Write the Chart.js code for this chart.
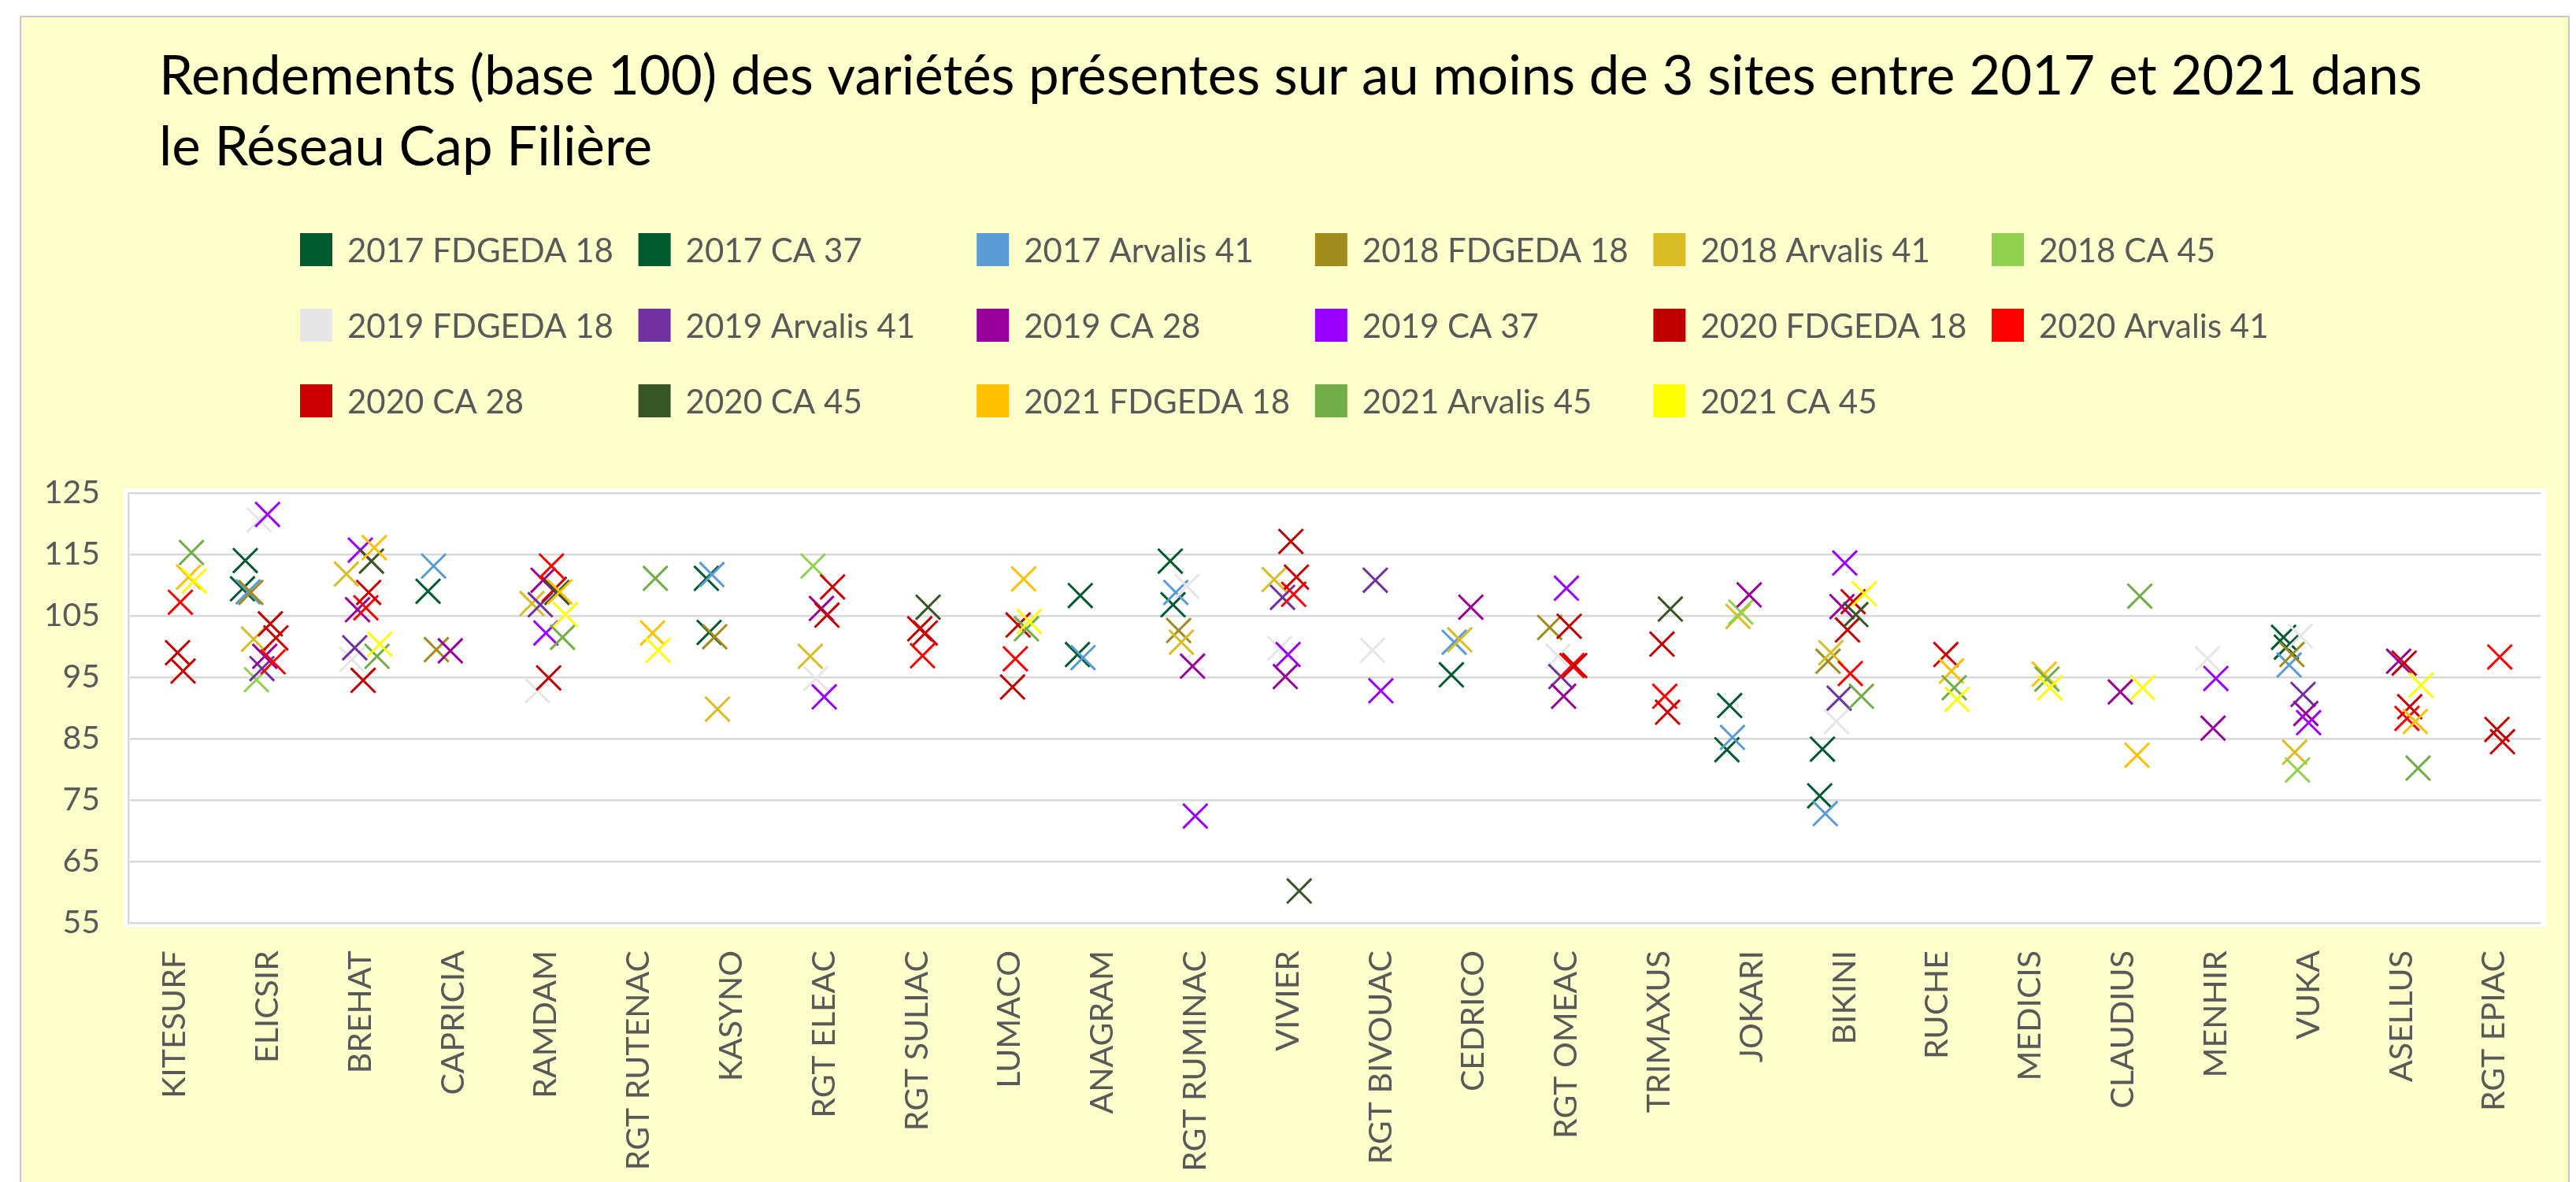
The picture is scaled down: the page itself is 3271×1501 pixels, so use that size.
<!DOCTYPE html>
<html><head><meta charset="utf-8">
<script src="https://cdn.jsdelivr.net/npm/chart.js@4/dist/chart.umd.min.js"></script>
<style>
html,body{margin:0;padding:0;background:#fff;width:3271px;height:1501px;overflow:hidden;}
#frame{position:absolute;left:25px;top:20px;width:3238px;height:1490px;background:#FFFFCC;border:2px solid #C8C8C8;box-sizing:border-box;}
#c{position:absolute;left:0;top:0;}
</style></head><body>
<div id="frame"></div>
<canvas id="c" width="3271" height="1501"></canvas>
<script>
const titleLines = [
  "Rendements (base 100) des variétés présentes sur au moins de 3 sites entre 2017 et 2021 dans",
  "le Réseau Cap Filière"
];
const categories = ['KITESURF','ELICSIR','BREHAT','CAPRICIA','RAMDAM','RGT RUTENAC','KASYNO','RGT ELEAC','RGT SULIAC','LUMACO','ANAGRAM','RGT RUMINAC','VIVIER','RGT BIVOUAC','CEDRICO','RGT OMEAC','TRIMAXUS','JOKARI','BIKINI','RUCHE','MEDICIS','CLAUDIUS','MENHIR','VUKA','ASELLUS','RGT EPIAC'];
const yTicks = [55, 65, 75, 85, 95, 105, 115, 125];
const seriesNames = ['2017 FDGEDA 18','2017 CA 37','2017 Arvalis 41','2018 FDGEDA 18','2018 Arvalis 41','2018 CA 45','2019 FDGEDA 18','2019 Arvalis 41','2019 CA 28','2019 CA 37','2020 FDGEDA 18','2020 Arvalis 41','2020 CA 28','2020 CA 45','2021 FDGEDA 18','2021 Arvalis 45','2021 CA 45'];
const seriesColors = ['#005A30','#005A30','#5B9BD5','#A08B1C','#D9BC26','#92D050','#E7E6E6','#7030A0','#990099','#9900FF','#C00000','#FF0000','#CC0000','#375623','#FFC000','#70AD47','#FFFF00'];

const y2017_FDGEDA18 = [null,109.4,null,109.0,null,null,111.1,null,null,null,98.7,113.9,null,null,null,null,null,83.2,75.7,null,null,null,null,101.5,null,null];
const y2017_CA37     = [null,114.0,null,null,null,null,102.3,null,null,null,108.3,106.8,null,null,95.4,null,null,90.4,83.3,null,null,null,null,99.9,null,null];
const y2017_Arvalis41= [null,108.9,null,113.1,null,null,111.7,null,null,null,98.2,108.8,null,null,100.7,null,null,85.2,72.8,null,null,null,null,97.0,null,null];
const y2018_FDGEDA18 = [null,108.8,null,99.5,null,null,101.6,null,null,null,null,102.6,null,null,null,103.1,null,null,97.6,null,null,null,null,98.7,null,null];
const y2018_Arvalis41= [null,101.2,111.8,null,107.0,null,89.8,98.4,null,null,null,100.7,110.9,null,101.1,null,null,104.9,99.0,null,null,null,null,82.8,null,null];
const y2018_CA45     = [null,94.6,null,null,null,null,null,113.1,null,null,null,null,null,null,null,null,null,105.6,null,null,null,null,null,79.9,null,null];
const y2019_FDGEDA18 = [null,120.6,97.9,null,92.8,null,null,94.8,null,null,null,109.8,99.7,99.4,null,98.4,null,null,87.8,null,null,null,98.0,101.7,null,null];
const y2019_Arvalis41= [null,96.4,99.8,null,106.8,null,null,null,null,null,null,null,108.0,110.8,null,95.1,null,null,91.6,null,null,null,null,92.2,null,null];
const y2019_CA28     = [null,98.4,106.0,99.3,110.8,null,null,106.2,null,null,null,96.8,95.1,null,106.4,91.9,null,108.4,106.5,null,null,92.6,86.7,89.1,97.6,null];
const y2019_CA37     = [null,121.5,115.7,null,102.2,null,null,91.8,null,null,null,72.4,98.7,92.8,null,109.5,null,null,113.6,null,null,null,94.8,87.6,null,null];
const y2020_FDGEDA18 = [99.0,103.7,94.5,null,94.9,null,null,105.1,102.9,93.4,null,null,117.1,null,null,103.3,100.4,null,102.7,null,null,null,null,null,97.3,86.5];
const y2020_Arvalis41= [107.2,97.5,106.3,null,113.1,null,null,null,98.5,98.0,null,null,108.5,null,null,96.9,91.9,null,95.6,null,null,null,null,null,88.3,98.3];
const y2020_CA28     = [96.0,101.4,108.8,null,109.3,null,null,109.7,102.2,103.5,null,null,111.3,null,null,96.9,89.3,null,107.3,98.7,null,null,null,null,90.2,84.5];
const y2020_CA45     = [null,null,113.9,null,108.8,null,null,null,106.4,null,null,null,60.2,null,null,null,106.1,null,105.2,null,null,null,null,null,null,null];
const y2021_FDGEDA18 = [111.3,null,116.1,null,108.9,102.2,null,null,null,111.0,null,null,null,null,null,null,null,null,null,96.0,95.5,82.3,null,null,87.8,null];
const y2021_Arvalis45= [115.3,null,98.4,null,101.5,111.1,null,null,null,102.9,null,null,null,null,null,null,null,null,91.9,93.3,94.7,108.2,null,null,80.2,null];
const y2021_CA45     = [110.7,null,100.4,null,105.2,99.4,null,null,null,104.1,null,null,null,null,null,null,null,null,108.6,91.4,93.3,93.3,null,null,93.7,null];

const seriesValues = [y2017_FDGEDA18,y2017_CA37,y2017_Arvalis41,y2018_FDGEDA18,y2018_Arvalis41,y2018_CA45,y2019_FDGEDA18,y2019_Arvalis41,y2019_CA28,y2019_CA37,y2020_FDGEDA18,y2020_Arvalis41,y2020_CA28,y2020_CA45,y2021_FDGEDA18,y2021_Arvalis45,y2021_CA45];

// layout / style
const FONT = 'Lato, "Open Sans", sans-serif';
const TEXT = '#595959';
const GRID = '#D9D9D9';
const SPREAD = 0.03;      // horizontal shift between series within a category
const CENTER_SERIES = 9;

const datasets = seriesValues.map((vals, k) => ({
  label: seriesNames[k],
  data: vals.map((v, i) => v == null ? null : {x: i + (k - CENTER_SERIES) * SPREAD, y: v}).filter(p => p),
  pointStyle: 'crossRot',
  pointRadius: 22,
  pointHoverRadius: 22,
  borderWidth: 3,
  pointBorderWidth: 3,
  borderColor: seriesColors[k],
  backgroundColor: seriesColors[k],
  showLine: false,
  order: -k
}));

const plotBg = {
  id: 'plotBg',
  beforeDraw(chart) {
    const {ctx, chartArea: a} = chart;
    ctx.save();
    ctx.fillStyle = '#FFFFFF';
    ctx.fillRect(a.left - 6, a.top - 6, a.right - a.left + 13, a.bottom - a.top + 11);
    ctx.restore();
  }
};

const header = {
  id: 'header',
  afterDraw(chart) {
    const ctx = chart.ctx;
    ctx.save();
    ctx.fillStyle = '#000000';
    ctx.font = '69px ' + FONT;
    ctx.textBaseline = 'alphabetic';
    ctx.textAlign = 'left';
    titleLines.forEach((t, i) => ctx.fillText(t, 202, 120 + i * 90));
    ctx.font = '42px ' + FONT;
    chart.data.datasets.forEach((ds, k) => {
      const col = k % 6, row = Math.floor(k / 6);
      const x = 381 + col * 429.6;
      const cy = 317 + row * 96;
      ctx.fillStyle = ds.borderColor;
      ctx.fillRect(x, cy - 21, 41, 42);
      ctx.fillStyle = TEXT;
      ctx.fillText(ds.label, x + 60, cy + 16);
    });
    ctx.restore();
  }
};

new Chart(document.getElementById('c'), {
  type: 'scatter',
  data: { datasets },
  options: {
    responsive: false,
    animation: false,
    devicePixelRatio: 1,
    events: [],
    layout: { padding: { top: 626, right: 45, left: 0, bottom: 0 } },
    plugins: { legend: { display: false }, title: { display: false }, tooltip: { enabled: false } },
    scales: {
      x: {
        type: 'linear',
        min: -0.5,
        max: categories.length - 0.5,
        afterBuildTicks: s => { s.ticks = categories.map((c, i) => ({ value: i })); },
        afterFit: s => { s.height = 1501 - 1172; },
        grid: { display: false, drawTicks: false },
        border: { display: false },
        ticks: {
          autoSkip: false,
          minRotation: 90,
          maxRotation: 90,
          padding: 35,
          color: TEXT,
          font: { family: FONT, size: 41 },
          callback: v => categories[v]
        }
      },
      y: {
        min: yTicks[0],
        max: yTicks[yTicks.length - 1],
        afterBuildTicks: s => { s.ticks = yTicks.map(v => ({ value: v })); },
        afterFit: s => { s.width = 163; },
        grid: { color: GRID, lineWidth: 2.5, drawTicks: false },
        border: { display: true, color: GRID, width: 2.5 },
        ticks: { padding: 36, color: TEXT, font: { family: FONT, size: 41 } }
      }
    }
  },
  plugins: [plotBg, header]
});
</script></body></html>
